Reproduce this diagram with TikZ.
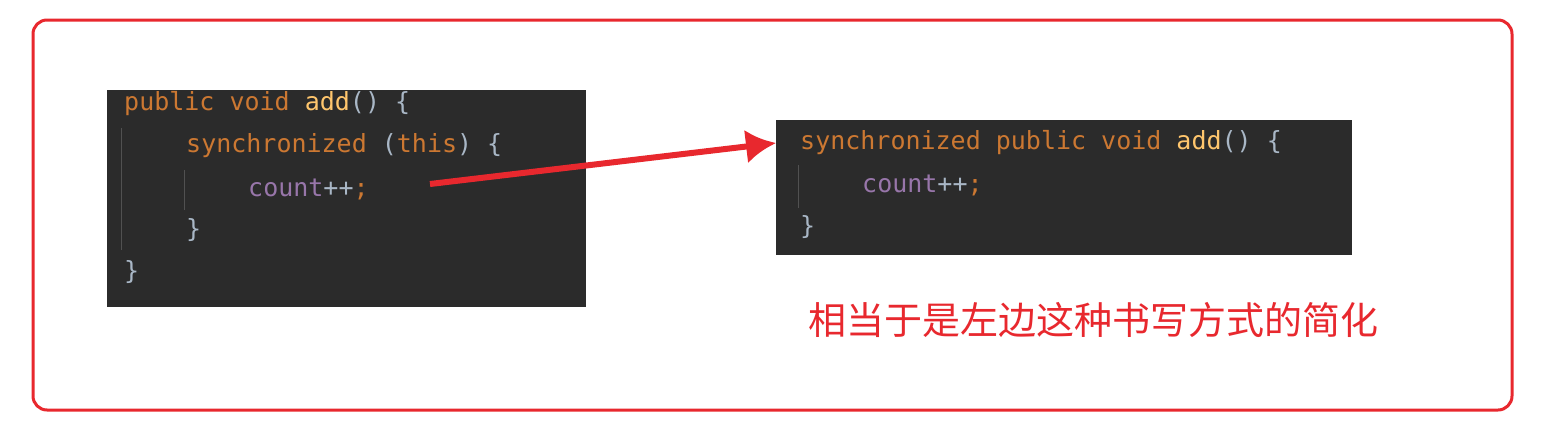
\documentclass[tikz,border=0pt]{standalone}
\usetikzlibrary{arrows.meta}
\usepackage{fontspec}
\setmonofont{DejaVu Sans Mono}
\newfontfamily\cjk{Noto Sans CJK SC}
\begin{document}
\definecolor{codebg}{HTML}{2B2B2B}
\definecolor{kw}{HTML}{CC7832}
\definecolor{fn}{HTML}{FFC66D}
\definecolor{fld}{HTML}{9876AA}
\definecolor{txt}{HTML}{A9B7C6}
\definecolor{myred}{HTML}{E8282E}
\begin{tikzpicture}[x=1pt,y=-1pt,
  code/.style={anchor=west,inner sep=0pt,font=\ttfamily\fontsize{25}{25}\selectfont,text=txt},
  box/.style={fill=codebg,draw=none}]
\useasboundingbox (0,0) rectangle (1567,421);
\fill[white] (0,0) rectangle (1567,421);
\draw[myred,line width=3,rounded corners=14] (33,20) rectangle (1512,410);
\node[box,minimum width=479,minimum height=217,anchor=north west,inner sep=0] (L) at (107,90) {};
\node[box,minimum width=576,minimum height=135,anchor=north west,inner sep=0] (R) at (776,120) {};
\draw[gray!45!codebg,line width=1] (121,128)--(121,250) (184,170)--(184,210) (798,165)--(798,208);
\node[code] (l1) at (124,104) {\textcolor{kw}{public void }\textcolor{fn}{add}() \{};
\node[code] (l2) at (186,146) {\textcolor{kw}{synchronized }(\textcolor{kw}{this}) \{};
\node[code] (l3) at (248,189) {\textcolor{fld}{count}++\textcolor{kw}{;}};
\node[code] (l4) at (186,230) {\}};
\node[code] (l5) at (124,272) {\}};
\node[code] (r1) at (800,143) {\textcolor{kw}{synchronized public void }\textcolor{fn}{add}() \{};
\node[code] (r2) at (862,185) {\textcolor{fld}{count}++\textcolor{kw}{;}};
\node[code] (r3) at (800,227) {\}};
\coordinate (a0) at (430,184);
\draw[myred,line width=6,-{Latex[length=30,width=34]}] (a0) -- (R.west|-r1);
\node[anchor=center,inner sep=0,text=myred,font=\cjk\fontsize{38}{38}\selectfont] (cn) at (1093,320) {相当于是左边这种书写方式的简化};
\end{tikzpicture}
\end{document}
